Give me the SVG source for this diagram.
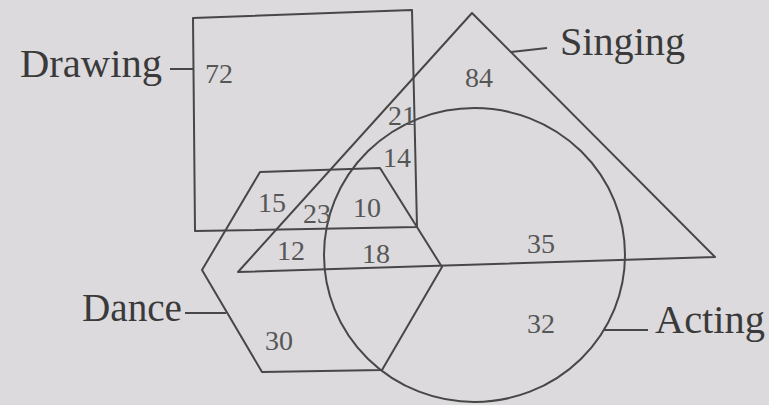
<svg xmlns="http://www.w3.org/2000/svg" width="769" height="405" viewBox="0 0 769 405">
<style>
.shape{fill:none;stroke:#474747;stroke-width:2;stroke-linejoin:round}
.lead{fill:none;stroke:#474747;stroke-width:2}
.lbl{font-family:"Liberation Serif","Times New Roman",serif;font-size:39px;fill:#3a3a3a}
.num{font-family:"Liberation Serif","Times New Roman",serif;font-size:28px;fill:#565656}
</style>
<rect x="0" y="0" width="769" height="405" fill="#dcdadd"/>
<g id="drawing">
<polygon class="shape" points="193,18 412,10 417,227 195,231"/>
<text class="lbl" x="20" y="77" textLength="142" lengthAdjust="spacingAndGlyphs">Drawing</text>
</g>
<g id="singing">
<polygon class="shape" points="472,13 715,257 238,272"/>
<text class="lbl" x="560" y="55" textLength="125" lengthAdjust="spacingAndGlyphs">Singing</text>
</g>
<g id="acting">
<ellipse class="shape" cx="474.5" cy="255" rx="150.5" ry="147"/>
<text class="lbl" x="655" y="333" textLength="110" lengthAdjust="spacingAndGlyphs">Acting</text>
</g>
<g id="dance">
<polygon class="shape" points="260,172 380,168 442,267 382,370 262,372 202,270"/>
<text class="lbl" x="82" y="321" textLength="100" lengthAdjust="spacingAndGlyphs">Dance</text>
</g>
<g id="connectors">
<line class="lead" x1="170" y1="69" x2="194" y2="69"/>
<line class="lead" x1="511" y1="52" x2="547" y2="48"/>
<line class="lead" x1="603" y1="330" x2="648" y2="330"/>
<line class="lead" x1="185" y1="313" x2="226" y2="313"/>
</g>
<g id="regions">
<text class="num" x="205" y="83">72</text>
<text class="num" x="465" y="87">84</text>
<text class="num" x="388" y="125">21</text>
<text class="num" x="383" y="167">14</text>
<text class="num" x="258" y="212">15</text>
<text class="num" x="303" y="223">23</text>
<text class="num" x="353" y="217">10</text>
<text class="num" x="277" y="260">12</text>
<text class="num" x="362" y="263">18</text>
<text class="num" x="527" y="253">35</text>
<text class="num" x="265" y="350">30</text>
<text class="num" x="527" y="333">32</text>
</g>
</svg>
